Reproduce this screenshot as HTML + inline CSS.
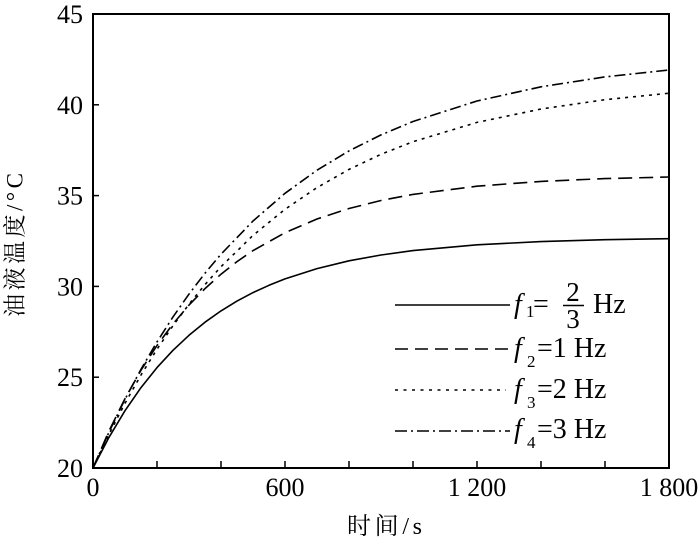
<!DOCTYPE html>
<html><head><meta charset="utf-8"><style>
html,body{margin:0;padding:0;background:#fff;}
svg{display:block;}
text{font-family:"Liberation Serif","Noto Serif CJK SC",serif;fill:#000;}
.cjk{font-family:"Liberation Serif","Noto Serif CJK SC","Noto Sans CJK SC",serif;}
</style></head><body>
<svg width="700" height="545" viewBox="0 0 700 545" xmlns="http://www.w3.org/2000/svg">
<rect width="700" height="545" fill="#fff"/>
<!-- curves -->
<g fill="none" stroke="#000" stroke-width="1.6" stroke-linejoin="round">
<polyline points="93,468 109,437.3 125,410.7 141,387.6 157,367.6 173,350.3 189,335.3 205,322.2 221,310.9 237,301.1 253,292.6 269,285.3 285,278.9 317,268.6 349,260.8 381,255.0 413,250.6 477,244.8 541,241.6 605,239.7 669,238.7"/>
<polyline stroke-dasharray="14 7" points="93,468 109,430.9 125,398.6 141,370.2 157,345.5 173,323.9 189,305.1 205,288.6 221,274.2 237,261.6 253,250.6 285,232.7 317,219.0 349,208.5 381,200.5 413,194.4 477,186.2 541,181.4 605,178.6 669,177.0"/>
<polyline stroke-dasharray="3 5" points="93,468 109,434.2 125,403.3 141,375.0 157,349.2 173,325.7 189,304.2 205,284.6 221,266.7 253,235.4 285,209.3 317,187.6 349,169.4 381,154.3 413,141.7 477,122.4 541,109.0 605,99.7 669,93.2"/>
<polyline stroke-dasharray="11 4 2 4" points="93,468 109,432.1 125,399.2 141,369.3 157,341.9 173,316.9 189,294.1 205,273.2 221,254.2 253,221.0 285,193.3 317,170.2 349,150.9 381,134.9 413,121.5 477,101.0 541,86.8 605,76.9 669,70.0"/>
</g>
<!-- frame -->
<rect x="93" y="14" width="576" height="454" fill="none" stroke="#000" stroke-width="2"/>
<!-- ticks -->
<g stroke="#000" stroke-width="1.5">
<line x1="157" y1="468" x2="157" y2="461"/>
<line x1="221" y1="468" x2="221" y2="461"/>
<line x1="285" y1="468" x2="285" y2="461"/>
<line x1="349" y1="468" x2="349" y2="461"/>
<line x1="413" y1="468" x2="413" y2="461"/>
<line x1="477" y1="468" x2="477" y2="461"/>
<line x1="541" y1="468" x2="541" y2="461"/>
<line x1="605" y1="468" x2="605" y2="461"/>
<line x1="93" y1="104.8" x2="99" y2="104.8"/>
<line x1="93" y1="195.6" x2="99" y2="195.6"/>
<line x1="93" y1="286.4" x2="99" y2="286.4"/>
<line x1="93" y1="377.2" x2="99" y2="377.2"/>
</g>
<!-- y tick labels -->
<g font-size="26" text-anchor="end">
<text x="83" y="23">45</text>
<text x="83" y="113.8">40</text>
<text x="83" y="204.6">35</text>
<text x="83" y="295.4">30</text>
<text x="83" y="386.2">25</text>
<text x="83" y="477">20</text>
</g>
<!-- x tick labels -->
<g font-size="26" text-anchor="middle">
<text x="93" y="496">0</text>
<text x="285" y="496">600</text>
<text x="477" y="496">1 200</text>
<text x="669" y="496">1 800</text>
</g>
<!-- axis labels -->
<text class="cjk" x="384.5" y="527" font-size="24" text-anchor="middle" dominant-baseline="central" textLength="75" lengthAdjust="spacing">时间/s</text>
<text class="cjk" transform="translate(15,245) rotate(-90)" font-size="23" text-anchor="middle" dominant-baseline="central" textLength="144" lengthAdjust="spacing">油液温度/°C</text>
<!-- legend -->
<g fill="none" stroke="#000" stroke-width="1.6">
<line x1="395" y1="305" x2="510" y2="305"/>
<line x1="395" y1="349" x2="510" y2="349" stroke-dasharray="13 7"/>
<line x1="395" y1="390" x2="506" y2="390" stroke-dasharray="3 5.5"/>
<line x1="395" y1="431" x2="510" y2="431" stroke-dasharray="12 4 2 4"/>
</g>
<g font-size="28">
<text x="514" y="313" font-style="italic">f</text>
<text x="526" y="317" font-size="17">1</text>
<text x="533" y="313">=</text>
<text x="573" y="301" text-anchor="middle" font-size="27">2</text>
<line x1="563" y1="305.5" x2="584" y2="305.5" stroke="#000" stroke-width="1.5"/>
<text x="573" y="328" text-anchor="middle" font-size="27">3</text>
<text x="593" y="313">Hz</text>

<text x="514" y="357" font-style="italic">f</text>
<text x="527" y="367" font-size="17">2</text>
<text x="537" y="357">=1 Hz</text>

<text x="514" y="398" font-style="italic">f</text>
<text x="527" y="408" font-size="17">3</text>
<text x="537" y="398">=2 Hz</text>

<text x="514" y="438" font-style="italic">f</text>
<text x="527" y="448" font-size="17">4</text>
<text x="537" y="438">=3 Hz</text>
</g>
</svg>
</body></html>
